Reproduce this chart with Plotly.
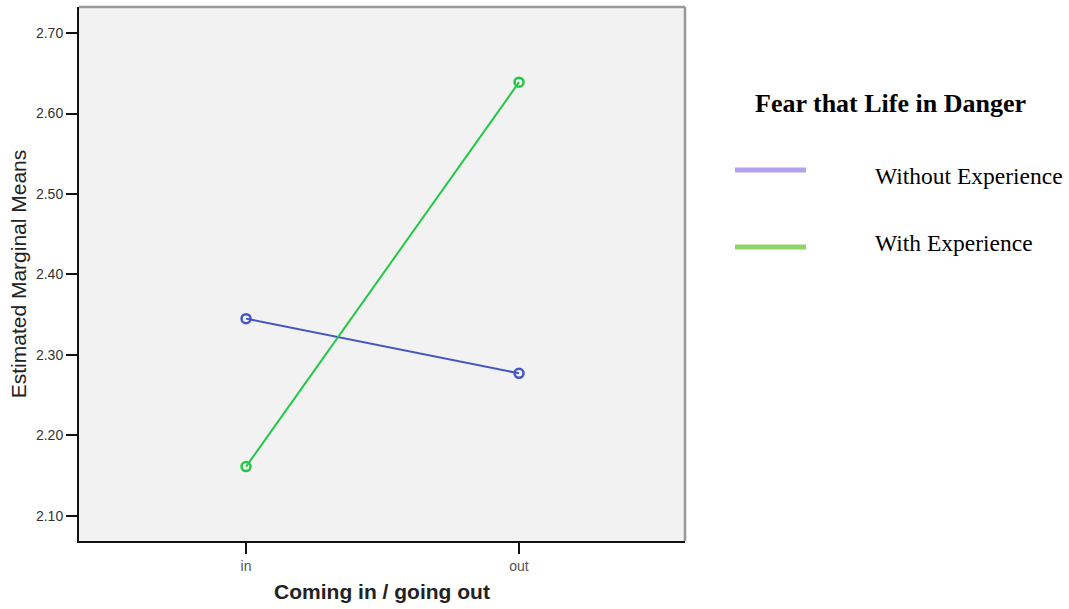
import plotly.graph_objects as go

categories = ["in", "out"]
without_exp = [2.345, 2.277]
with_exp = [2.161, 2.639]
series_names = ["Without Experience", "With Experience"]
line_colors = ["#4456c4", "#22c845"]
legend_colors = ["#b3a2ef", "#8ed468"]
y_ticks = [2.10, 2.20, 2.30, 2.40, 2.50, 2.60, 2.70]

L, R, T, B = 79, 384, 7, 68
W, H = 1069, 609
pw, ph = W - L - R, H - T - B

def px(x):
    return (x - L) / pw

def py(y):
    return (H - B - y) / ph

fig = go.Figure()
for name, vals, col in zip(series_names, [without_exp, with_exp], line_colors):
    fig.add_trace(go.Scatter(
        x=[0, 1], y=vals, mode="lines+markers", name=name, showlegend=False,
        line=dict(color=col, width=2),
        marker=dict(symbol="circle-open", size=9, color=col, line=dict(width=2.5, color=col)),
    ))

fig.update_layout(
    width=W, height=H,
    margin=dict(l=L, r=R, t=T, b=B),
    paper_bgcolor="white", plot_bgcolor="#f2f2f2",
    font=dict(family="Liberation Sans, Arial", color="#222"),
    xaxis=dict(
        range=[-0.612, 1.608], tickvals=[0, 1], ticktext=categories,
        ticks="outside", ticklen=11, tickwidth=2, tickcolor="#111",
        tickfont=dict(size=14, color="#555"), showgrid=False, zeroline=False,
        showline=True, linecolor="#111", linewidth=2, mirror=False,
        title=dict(text="<b>Coming in / going out</b>", font=dict(size=21, color="#222"), standoff=12),
    ),
    yaxis=dict(
        range=[2.0685, 2.7325], tickvals=y_ticks, tickformat=".2f",
        ticks="outside", ticklen=11, tickwidth=2, tickcolor="#111",
        tickfont=dict(size=14, color="#333"), showgrid=False, zeroline=False,
        showline=True, linecolor="#111", linewidth=2,
        title=dict(text="Estimated Marginal Means", font=dict(size=21, color="#222"), standoff=4),
    ),
)

# top/right frame in gray
fig.add_shape(type="line", xref="paper", yref="paper", x0=0, x1=1, y0=1, y1=1,
              line=dict(color="#999999", width=2.5))
fig.add_shape(type="line", xref="paper", yref="paper", x0=1, x1=1, y0=0, y1=1,
              line=dict(color="#999999", width=2.5))

# custom legend
fig.add_annotation(xref="paper", yref="paper", x=px(890), y=py(103), showarrow=False,
                   text="<b>Fear that Life in Danger</b>", xanchor="center", yanchor="middle",
                   font=dict(family="Liberation Serif, Times New Roman", size=26, color="#000"))
for name, col, yy, ty in zip(series_names, legend_colors, [170, 247], [176, 243]):
    fig.add_shape(type="line", xref="paper", yref="paper", x0=px(735), x1=px(806),
                  y0=py(yy), y1=py(yy), line=dict(color=col, width=5))
    fig.add_annotation(xref="paper", yref="paper", x=px(873), y=py(ty), showarrow=False,
                       text=name, xanchor="left", yanchor="middle",
                       font=dict(family="Liberation Serif, Times New Roman", size=23.5, color="#000"))

fig.write_html("out.html", post_script="document.body.style.margin='0';",
               config={"displayModeBar": False})
